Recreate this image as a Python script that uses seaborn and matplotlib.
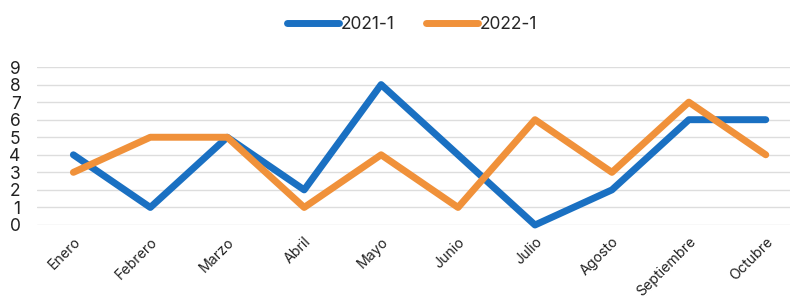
import pandas as pd
import seaborn as sns
import matplotlib.pyplot as plt

meses = ["Enero", "Febrero", "Marzo", "Abril", "Mayo", "Junio", "Julio",
         "Agosto", "Septiembre", "Octubre"]
serie_2021 = [4, 1, 5, 2, 8, 4, 0, 2, 6, 6]
serie_2022 = [3, 5, 5, 1, 4, 1, 6, 3, 7, 4]

df = pd.DataFrame({
    "mes": meses * 2,
    "valor": serie_2021 + serie_2022,
    "periodo": ["2021-1"] * len(meses) + ["2022-1"] * len(meses),
})
df["pos"] = list(range(len(meses))) * 2

sns.set_style("white")
plt.rcParams["font.family"] = ["Inter", "DejaVu Sans"]

fig = plt.figure(figsize=(7.92, 2.98), dpi=100)
ax = fig.add_axes([0.047, 0.245, 0.95, 0.53])

sns.lineplot(data=df, x="pos", y="valor", hue="periodo",
             palette={"2021-1": "#1a70c2", "2022-1": "#f0913a"},
             linewidth=5, ax=ax, clip_on=False, solid_capstyle="round")

ax.set_xlim(-0.47, 9.31)
ax.set_ylim(0, 9)
ax.set_yticks(range(0, 10))
ax.set_xticks(range(len(meses)))
ax.set_xticklabels(meses, rotation=45, ha="right", rotation_mode="anchor",
                   fontsize=10.2, color="#222222")
ax.tick_params(axis="y", labelsize=12.5, colors="#222222", length=0, pad=12)
ax.tick_params(axis="x", length=0, pad=7)
ax.grid(axis="y", color="#dddddd", linewidth=1)
ax.set_axisbelow(True)
for s in ax.spines.values():
    s.set_visible(False)
ax.set_xlabel("")
ax.set_ylabel("")

leg = ax.legend(loc="upper center", bbox_to_anchor=(0.52, 1.0), bbox_transform=fig.transFigure,
                ncol=2, frameon=False, fontsize=12.5, handlelength=3.0,
                handletextpad=0.1, columnspacing=1.8)
for line in leg.get_lines():
    line.set_linewidth(5)

fig.savefig("out.png", dpi=100)
